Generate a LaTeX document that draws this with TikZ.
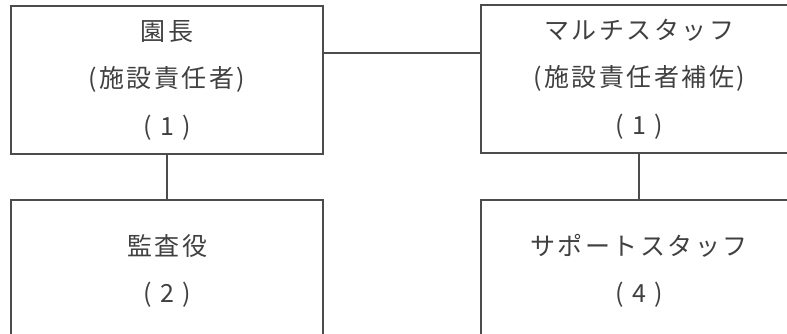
\documentclass[tikz,border=0pt]{standalone}
\usepackage{fontspec}
\newfontfamily\jpfont[LetterSpace=10]{Noto Sans CJK JP}
\begin{document}
\begin{tikzpicture}[x=1pt,y=-1pt,
    post/.style={draw=black!70, line width=1.2pt, rectangle, inner sep=0pt,
      align=center, text=black!75,
      font=\jpfont\fontsize{25}{47.5}\selectfont},
    tie/.style={draw=black!70, line width=1.2pt}]
  \useasboundingbox (0,0) rectangle (787,334);
  \draw
    (167,80) node[post, minimum width=312pt, minimum height=148pt] (head){園長\\(施設責任者)\\( 1 )}
    (639,79) node[post, minimum width=316pt, minimum height=148pt] (multi){マルチスタッフ\\(施設責任者補佐)\\( 1 )}
    (167,271) node[post, minimum width=312pt, minimum height=142pt] (audit){監査役\\( 2 )}
    (639,271) node[post, minimum width=316pt, minimum height=142pt] (support){サポートスタッフ\\( 4 )};
  \begin{scope}[tie]
    \draw ([yshift=27pt]head.east) to ([yshift=26pt]multi.west);
    \draw (head) to (audit);
    \draw (multi) to (support);
  \end{scope}
\end{tikzpicture}
\end{document}
